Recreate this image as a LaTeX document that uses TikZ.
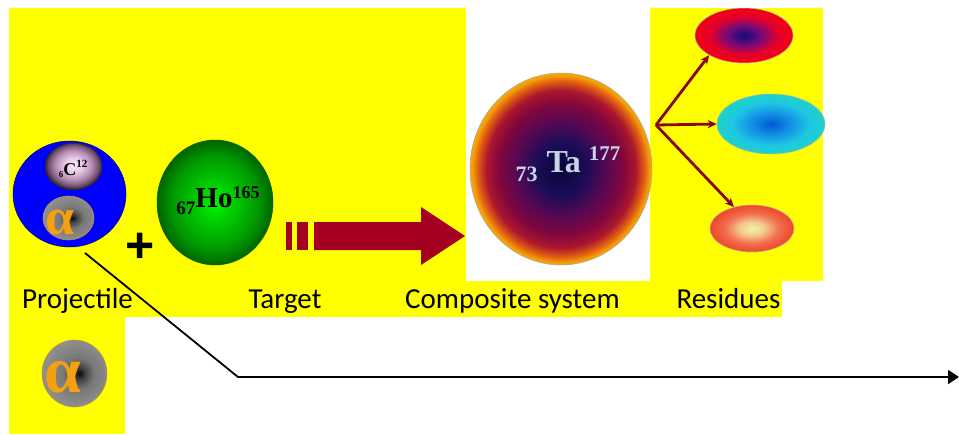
\documentclass[tikz,border=0pt]{standalone}
\usepackage{fontspec}
\setmainfont{Carlito}
\newfontfamily\nucfont{Liberation Serif}
\newfontfamily\plusfont{Liberation Sans}
\usetikzlibrary{arrows.meta, shapes.geometric}

% Couleurs
\definecolor{jaune}{RGB}{255,255,0}
\definecolor{bleuproj}{RGB}{0,0,255}
\definecolor{rougefleche}{RGB}{165,0,33}
\definecolor{rougebranche}{RGB}{135,8,30}
\definecolor{orangealpha}{RGB}{245,160,16}
\definecolor{grisTa}{RGB}{200,212,232}

% Degrades des noyaux (bord du noeud a 25bp)
\definecolor{taA}{RGB}{6,6,58}
\definecolor{taB}{RGB}{28,12,88}
\definecolor{taC}{RGB}{88,8,82}
\definecolor{taD}{RGB}{128,6,62}
\definecolor{taE}{RGB}{172,22,46}
\definecolor{taF}{RGB}{226,98,16}
\definecolor{taG}{RGB}{243,156,10}
\definecolor{taH}{RGB}{245,170,0}
\pgfdeclareradialshading{ombreTa}{\pgfpoint{0bp}{0bp}}{%
  color(0bp)=(taA); color(7bp)=(taB); color(12.5bp)=(taC); color(17bp)=(taD);
  color(20.5bp)=(taE); color(23bp)=(taF); color(24.3bp)=(taG); color(25bp)=(taH);
  color(50bp)=(taH)}

\definecolor{hoA}{RGB}{0,245,0}
\definecolor{hoB}{RGB}{0,200,0}
\definecolor{hoC}{RGB}{0,150,0}
\definecolor{hoD}{RGB}{0,100,0}
\pgfdeclareradialshading{ombreHo}{\pgfpoint{0bp}{0bp}}{%
  color(0bp)=(hoA); color(9bp)=(hoB); color(19bp)=(hoC); color(25bp)=(hoD); color(50bp)=(hoD)}

\definecolor{cA}{RGB}{250,236,250}
\definecolor{cB}{RGB}{232,200,232}
\definecolor{cC}{RGB}{180,140,180}
\definecolor{cD}{RGB}{110,80,110}
\definecolor{cE}{RGB}{50,35,50}
\pgfdeclareradialshading{ombreC}{\pgfpoint{0bp}{2bp}}{%
  color(0bp)=(cA); color(8bp)=(cB); color(16bp)=(cC); color(22bp)=(cD); color(25bp)=(cE);
  color(50bp)=(cE)}

\definecolor{alA}{RGB}{10,10,10}
\definecolor{alB}{RGB}{70,70,70}
\definecolor{alC}{RGB}{120,120,120}
\definecolor{alD}{RGB}{142,142,142}
\pgfdeclareradialshading{ombreAlpha}{\pgfpoint{4bp}{0bp}}{%
  color(0bp)=(alA); color(5bp)=(alB); color(12bp)=(alC); color(25bp)=(alD); color(50bp)=(alD)}

\definecolor{rsA}{RGB}{20,10,120}
\definecolor{rsB}{RGB}{120,10,120}
\definecolor{rsC}{RGB}{230,0,40}
\definecolor{rsD}{RGB}{240,0,20}
\pgfdeclareradialshading{ombreRes1}{\pgfpoint{0bp}{0bp}}{%
  color(0bp)=(rsA); color(9bp)=(rsB); color(17.5bp)=(rsC); color(25bp)=(rsD); color(50bp)=(rsD)}

\definecolor{bcA}{RGB}{0,90,210}
\definecolor{bcB}{RGB}{20,150,230}
\definecolor{bcC}{RGB}{30,200,225}
\definecolor{bcD}{RGB}{30,210,200}
\pgfdeclareradialshading{ombreRes2}{\pgfpoint{0bp}{0bp}}{%
  color(0bp)=(bcA); color(10bp)=(bcB); color(18bp)=(bcC); color(25bp)=(bcD); color(50bp)=(bcD)}

\definecolor{piA}{RGB}{238,245,170}
\definecolor{piB}{RGB}{245,200,140}
\definecolor{piC}{RGB}{240,110,80}
\definecolor{piD}{RGB}{240,70,40}
\pgfdeclareradialshading{ombreRes3}{\pgfpoint{0bp}{0bp}}{%
  color(0bp)=(piA); color(7.5bp)=(piB); color(16bp)=(piC); color(25bp)=(piD); color(50bp)=(piD)}

\tikzset{
  boule/.style={ellipse, inner sep=0pt, line width=0.5pt},
  etiquette/.style={anchor=base, inner sep=0pt, font=\fontsize{29}{29}\selectfont},
  nucleide/.style={anchor=base, inner sep=0pt, font=\nucfont\bfseries},
  lettrealpha/.style={inner sep=0pt, text=orangealpha},
  branche/.style={-{Stealth[length=9pt, width=8pt]}, line width=2.8pt, draw=rougebranche}
}

\begin{document}
\begin{tikzpicture}[x=1pt, y=-1pt]
    \useasboundingbox (0,0) rectangle (959,434);
    \fill[white] (0,0) rectangle (959,434);

    % Fonds jaunes
    \fill[jaune] (9,8) rectangle (466,317);
    \fill[jaune] (9,317) rectangle (125,434);
    \fill[jaune] (466,281) rectangle (650,317);
    \fill[jaune] (650,8) rectangle (823,281);
    \fill[jaune] (650,281) rectangle (782,317);

    % Projectile : C12 et alpha
    \node[boule, minimum width=113pt, minimum height=106pt, fill=bleuproj, draw=bleuproj!50!black] (proj) at (69.5,194) {};
    \node[boule, minimum width=57pt, minimum height=47pt, shading=ombreC, draw=cE] (carbone) at (73.5,166.5) {};
    \node[nucleide] (carbonelab) at (73,175) {\fontsize{9}{9}\selectfont\raisebox{-2pt}{6}\fontsize{18}{18}\selectfont C\fontsize{11}{11}\selectfont\raisebox{8pt}{12}};
    \node[boule, minimum width=51pt, minimum height=44pt, shading=ombreAlpha, draw=orangealpha!60!gray] (alpha) at (68.5,218) {};
    \node[lettrealpha, font=\nucfont\bfseries\fontsize{52}{52}\selectfont] (alphalab) at (60,222) {α};

    % Signe plus
    \node[inner sep=0pt, font=\plusfont\bfseries\fontsize{50}{50}\selectfont] (plus) at (140,248) {+};

    % Cible
    \node[boule, minimum width=116pt, minimum height=125pt, shading=ombreHo, draw=hoD] (cible) at (215,202.5) {};
    \node[nucleide] (ciblelab) at (218,207) {\fontsize{19}{19}\selectfont\raisebox{-7pt}{67}\fontsize{29}{29}\selectfont Ho\fontsize{18}{18}\selectfont\raisebox{9pt}{165}};

    % Grosse fleche
    \fill[rougefleche] (286,222) rectangle (292,250);
    \fill[rougefleche] (297,222) rectangle (308,250);
    \fill[rougefleche] (314,222) -- (421,222) -- (421,207) -- (465,236)
        -- (421,265) -- (421,250) -- (314,250) -- cycle;

    % Noyau compose
    \node[boule, minimum width=182pt, minimum height=192pt, shading=ombreTa, draw=gray!70] (compose) at (561,169) {};
    \node[nucleide, text=grisTa] (composelab) at (568,172) {\fontsize{22}{22}\selectfont\raisebox{-9pt}{73}\hspace{9pt}\fontsize{32}{32}\selectfont Ta\hspace{8pt}\fontsize{21}{21}\selectfont\raisebox{12pt}{177}};

    % Residus
    \node[boule, minimum width=98pt, minimum height=55pt, shading=ombreRes1, draw=gray!60] (res1) at (744,35.5) {};
    \node[boule, minimum width=108pt, minimum height=60pt, shading=ombreRes2, draw=gray!60] (res2) at (771,124) {};
    \node[boule, minimum width=84pt, minimum height=47pt, shading=ombreRes3, draw=gray!60] (res3) at (752,228.5) {};
    \coordinate (fourche) at (656,125);
    \draw[branche] (fourche) -- (res1.south west);
    \draw[branche] (fourche) -- (res2.west);
    \draw[branche] (fourche) -- (res3.130);

    % Legendes
    \node[etiquette] (lproj) at (77.5,308) {Projectile};
    \node[etiquette] (lcible) at (285,308) {Target};
    \node[etiquette] (lcompose) at (512.5,308) {Composite system};
    \node[etiquette] (lres) at (728.5,308) {Residues};

    % Alpha seul
    \node[boule, minimum width=65pt, minimum height=67pt, shading=ombreAlpha, draw=orangealpha!60!gray] (alphaseul) at (74.5,373.5) {};
    \node[lettrealpha, font=\nucfont\bfseries\fontsize{66}{66}\selectfont] (alphaseullab) at (62.5,377) {α};

    % Trajectoire
    \coordinate (depart) at (85,253);
    \coordinate (coude) at (238,377);
    \coordinate (fin) at (959,377);
    \draw[line width=1.8pt, -{Triangle[length=11pt, width=14pt]}] (depart) -- (coude) -- (fin);
\end{tikzpicture}
\end{document}
